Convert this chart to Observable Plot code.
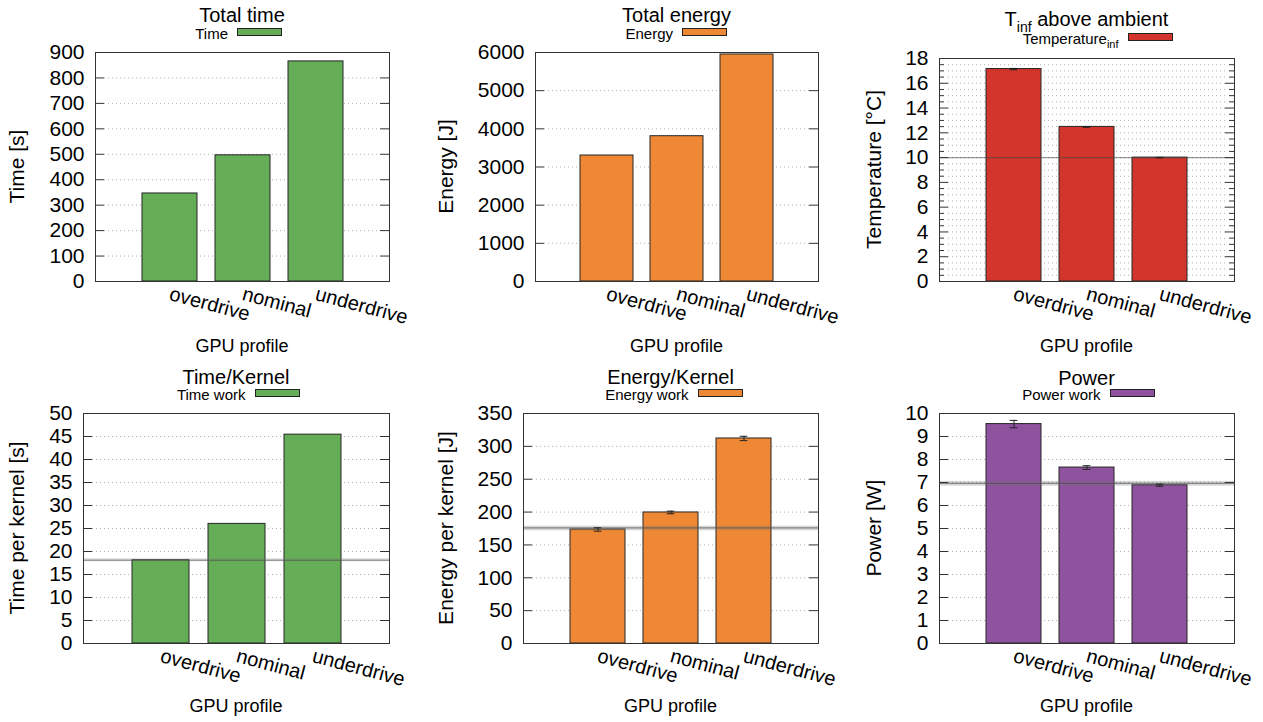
<!DOCTYPE html>
<html><head><meta charset="utf-8">
<script src="https://cdn.jsdelivr.net/npm/d3@7"></script>
<script src="https://cdn.jsdelivr.net/npm/@observablehq/plot@0.6"></script>
<style>
html,body{margin:0;padding:0;background:#fff;overflow:hidden}
#root{position:relative;width:1263px;height:722px;font-family:"Liberation Sans",Arial,Helvetica,sans-serif;color:#000}
#root svg.plotsvg{position:absolute;overflow:visible}
.legend{position:absolute;width:45px;height:8px}
.legend .lab{position:absolute;right:100%;margin-right:9px;top:50%;transform:translateY(-42%);white-space:nowrap;font-size:15px;line-height:15px}
.legend .lab sub{font-size:11px;vertical-align:-4px;line-height:0}
.legend .sw{position:absolute;left:0;top:0;width:43px;height:6px;border:1px solid #222}
#overlay{position:absolute;left:0;top:0;pointer-events:none}
</style></head>
<body><div id="root"></div>
<script>
// ---- data ----
const profiles = ["overdrive", "nominal", "underdrive"];
const totalTime = [346, 496, 865];
const totalEnergy = [3301, 3807, 5948];
const tempInf = [17.15, 12.48, 10.0];
const tempInfErr = [0.05, 0.03, 0.02];
const timeKernel = [18.1, 26.0, 45.4];
const energyKernel = [173.5, 199.4, 312.0];
const energyKernelErr = [2.6, 2.0, 3.3];
const powerWork = [9.54, 7.65, 6.88];
const powerWorkErr = [0.16, 0.08, 0.045];
const tempRef = 10;
const timeKernelRef = [18.1, 17.8, 18.4];
const energyKernelRef = [176, 171.5, 178.5];
const powerRef = [6.96, 6.84, 7.05];

const titles = ["Total time", "Total energy", "T<tspan font-size='14' dy='6'>inf</tspan><tspan dy='-6'> above ambient</tspan>", "Time/Kernel", "Energy/Kernel", "Power"];
const legendLabels = ["Time", "Energy", "Temperature<sub>inf</sub>", "Time work", "Energy work", "Power work"];
const yLabels = ["Time [s]", "Energy [J]", "Temperature [°C]", "Time per kernel [s]", "Energy per kernel [J]", "Power [W]"];
const xLabel = "GPU profile";
const yTicks = [
  d3.range(0, 901, 100), d3.range(0, 6001, 1000), d3.range(0, 19, 2),
  d3.range(0, 51, 5), d3.range(0, 351, 50), d3.range(0, 11, 1)
];
const yMinor = [null, null, d3.range(0, 18.01, 0.5), null, null, null];
const yMax = [900, 6000, 18, 50, 350, 10];

const green = "#66ad58", orange = "#ee8834", red = "#d1352c", purple = "#8e529e";

// ---- layout (frames in page px) ----
const frames = [
  {x1: 95, x2: 389, y1: 52, y2: 281},
  {x1: 535, x2: 818, y1: 52, y2: 281},
  {x1: 939, x2: 1234, y1: 58, y2: 281},
  {x1: 83, x2: 389, y1: 413, y2: 643},
  {x1: 523, x2: 818, y1: 413, y2: 643},
  {x1: 939, x2: 1234, y1: 413, y2: 643}
];
const titleBaseline = [22, 22, 25.5, 384, 384, 384.5];
const legendBox = [{x: 237, y: 27.5}, {x: 682, y: 27.5}, {x: 1127.5, y: 32.5}, {x: 254.5, y: 388.5}, {x: 697.5, y: 389}, {x: 1109.5, y: 388.5}];
const yLabelBaseX = [24.3, 452.5, 881, 24.3, 452.5, 881];
const xLabelBaseline = [351.5, 351.5, 351.5, 712, 712, 712];

const panels = [
  {values: totalTime, fill: green},
  {values: totalEnergy, fill: orange},
  {values: tempInf, errors: tempInfErr, fill: red, ref: [tempRef, tempRef, tempRef]},
  {values: timeKernel, fill: green, ref: timeKernelRef},
  {values: energyKernel, errors: energyKernelErr, fill: orange, ref: energyKernelRef},
  {values: powerWork, errors: powerWorkErr, fill: purple, ref: powerRef}
];

const root = document.getElementById("root");
const ML = 80, MR = 25, MT = 10, MB = 80;

panels.forEach((p, i) => {
  const f = frames[i];
  const fw = f.x2 - f.x1, fh = f.y2 - f.y1;
  const bw = 0.75 * fw / 4;
  const capInset = (bw - 8) / 2;
  const data = profiles.map((name, j) => ({name, v: p.values[j], e: p.errors ? p.errors[j] : 0}));
  const major = yTicks[i];
  const minor = yMinor[i];
  const gridTicks = (minor || major).filter(t => t > 0 && t < yMax[i]);
  const marks = [
    Plot.gridY(gridTicks, {stroke: "#b0b0b0", strokeOpacity: 1, strokeDasharray: "1,3", insetLeft: 9, insetRight: 9}),
    Plot.barY(data, {x: "name", y: "v", fill: p.fill, stroke: "#262626", strokeWidth: 1})
  ];
  if (p.ref) {
    const [c, lo, hi] = p.ref;
    if (lo !== hi) marks.push(Plot.rectY([{lo, hi}], {y1: "lo", y2: "hi", fill: "#777", fillOpacity: 0.3}));
    marks.push(Plot.ruleY([c], {stroke: "#444", strokeOpacity: 0.55, strokeWidth: 1.2}));
  }
  if (p.errors) {
    marks.push(
      Plot.ruleX(data, {x: "name", y1: d => d.v - d.e, y2: d => d.v + d.e, stroke: "#222"}),
      Plot.tickY(data, {x: "name", y: d => d.v - d.e, stroke: "#222", insetLeft: capInset, insetRight: capInset}),
      Plot.tickY(data, {x: "name", y: d => d.v + d.e, stroke: "#222", insetLeft: capInset, insetRight: capInset})
    );
  }
  // inward tick marks, left and right
  marks.push(
    Plot.ruleY(major, {stroke: "#333", insetRight: fw - 9}),
    Plot.ruleY(major, {stroke: "#333", insetLeft: fw - 9})
  );
  if (minor) {
    const mn = minor.filter(t => !major.includes(t));
    marks.push(
      Plot.ruleY(mn, {stroke: "#333", insetRight: fw - 5}),
      Plot.ruleY(mn, {stroke: "#333", insetLeft: fw - 5})
    );
  }
  marks.push(
    Plot.frame({stroke: "#333"}),
    Plot.axisY({ticks: major, tickFormat: d => String(d), tickSize: 0, tickPadding: 11, fontSize: 21, label: null}),
    Plot.axisX({tickSize: 0, tickPadding: 12, tickRotate: 15, fontSize: 20, label: null})
  );
  const svg = Plot.plot({
    width: fw + ML + MR, height: fh + MT + MB,
    marginLeft: ML, marginRight: MR, marginTop: MT, marginBottom: MB,
    x: {type: "band", domain: profiles, paddingInner: 0.25, paddingOuter: 0.625, align: 0.5},
    y: {domain: [0, yMax[i]]},
    style: {fontFamily: "'Liberation Sans', Arial, Helvetica, sans-serif", background: "transparent", color: "#000", overflow: "visible"},
    marks
  });
  svg.classList.add("plotsvg");
  svg.style.left = (f.x1 - ML) + "px";
  svg.style.top = (f.y1 - MT) + "px";
  root.appendChild(svg);

  // legend
  const lg = document.createElement("div");
  lg.className = "legend";
  lg.style.left = legendBox[i].x + "px";
  lg.style.top = legendBox[i].y + "px";
  lg.innerHTML = `<span class="lab">${legendLabels[i]}</span><div class="sw" style="background:${p.fill}"></div>`;
  root.appendChild(lg);
});

// overlay texts: titles, y labels, x labels
const NS = "http://www.w3.org/2000/svg";
const ov = document.createElementNS(NS, "svg");
ov.setAttribute("id", "overlay");
ov.setAttribute("width", 1263);
ov.setAttribute("height", 722);
ov.style.fontFamily = "'Liberation Sans', Arial, Helvetica, sans-serif";
frames.forEach((f, i) => {
  const cx = (f.x1 + f.x2) / 2, cy = (f.y1 + f.y2) / 2;
  const t = document.createElementNS(NS, "text");
  t.setAttribute("x", cx); t.setAttribute("y", titleBaseline[i]);
  t.setAttribute("text-anchor", "middle"); t.setAttribute("font-size", 20);
  t.innerHTML = titles[i];
  ov.appendChild(t);
  const yl = document.createElementNS(NS, "text");
  yl.setAttribute("transform", `translate(${yLabelBaseX[i]},${cy}) rotate(-90)`);
  yl.setAttribute("text-anchor", "middle"); yl.setAttribute("font-size", 21);
  yl.textContent = yLabels[i];
  ov.appendChild(yl);
  const xl = document.createElementNS(NS, "text");
  xl.setAttribute("x", cx); xl.setAttribute("y", xLabelBaseline[i]);
  xl.setAttribute("text-anchor", "middle"); xl.setAttribute("font-size", 18);
  xl.textContent = xLabel;
  ov.appendChild(xl);
});
root.appendChild(ov);
</script>
</body></html>
